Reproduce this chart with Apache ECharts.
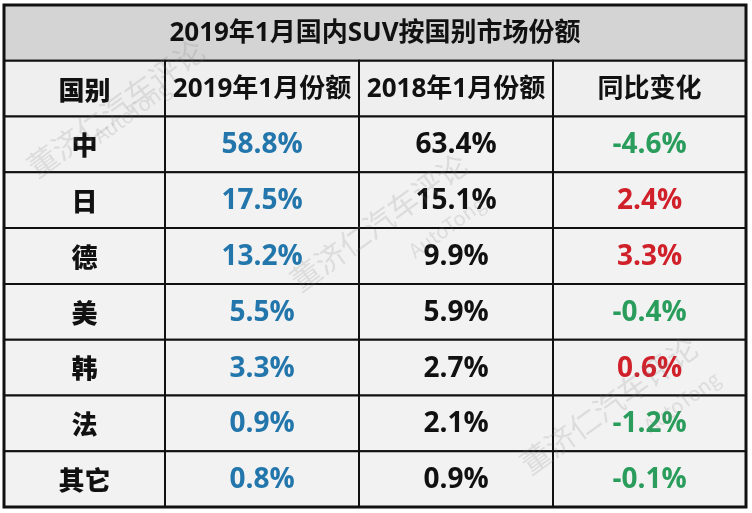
<!DOCTYPE html>
<html>
<head>
<meta charset="utf-8">
<script src="https://cdn.jsdelivr.net/npm/echarts@6/dist/echarts.min.js"></script>
<style>
  html, body { margin: 0; padding: 0; background: #fff; }
  #chart { width: 752px; height: 513px; }
</style>
</head>
<body>
<div id="chart"></div>
<script>
// table data
const tableTitle = '2019年1月国内SUV按国别市场份额'
const headers = ['国别', '2019年1月份额', '2018年1月份额', '同比变化']
const countries = ['中', '日', '德', '美', '韩', '法', '其它']
const share2019 = [58.8, 17.5, 13.2, 5.5, 3.3, 0.9, 0.8]
const share2018 = [63.4, 15.1, 9.9, 5.9, 2.7, 2.1, 0.9]
const yoyChange = [-4.6, 2.4, 3.3, -0.4, 0.6, -1.2, -0.1]

// layout: column edges along the x value axis
const colEdges = [0, 161, 355, 549, 742]
const rowCount = countries.length + 2

const cjk = "'Noto Sans CJK SC', sans-serif"
const num = "'Open Sans', 'Noto Sans CJK SC', sans-serif"

const cells = []
// title row spans all columns
cells.push({ c0: 0, c1: 4, row: 0, text: tableTitle, color: '#111', bg: '#d4d4d4', font: num, size: 26, weight: 'bold' })
headers.forEach((h, i) => {
  cells.push({ c0: i, c1: i + 1, row: 1, text: h, color: '#111', bg: '#efefef', font: i === 0 ? cjk : num, size: 26, weight: i === 0 ? 900 : 'bold' })
})
countries.forEach((name, r) => {
  const row = r + 2
  cells.push({ c0: 0, c1: 1, row, text: name, color: '#111', bg: '#f2f2f2', font: cjk, size: 26, weight: 900 })
  cells.push({ c0: 1, c1: 2, row, text: share2019[r].toFixed(1) + '%', color: '#2276ab', bg: '#f2f2f2', font: num, size: 28, weight: 'bold' })
  cells.push({ c0: 2, c1: 3, row, text: share2018[r].toFixed(1) + '%', color: '#111', bg: '#f2f2f2', font: num, size: 28, weight: 'bold' })
  cells.push({
    c0: 3, c1: 4, row,
    text: yoyChange[r].toFixed(1) + '%',
    color: yoyChange[r] < 0 ? '#2a9d5c' : '#d0212b',
    bg: '#f2f2f2', font: num, size: 28, weight: 'bold'
  })
})

const mychart = echarts.init(document.getElementById('chart'))

const watermark = (x, y, text, size, rot) => ({
  type: 'text', x, y, rotation: rot, silent: true, z: 100,
  style: { text, fill: 'rgba(120,120,120,0.18)', font: size + "px 'Noto Sans CJK SC'" }
})

mychart.setOption({
  animation: false,
  grid: { left: 4, right: 6, top: 5, bottom: 6 },
  xAxis: { type: 'value', min: 0, max: 742, show: false },
  yAxis: { type: 'value', min: 0, max: rowCount, inverse: true, show: false },
  series: [{
    type: 'custom',
    data: cells.map((c, i) => [colEdges[c.c0], colEdges[c.c1], c.row, i]),
    renderItem: (params, api) => {
      const cell = cells[api.value(3)]
      const p0 = api.coord([api.value(0), api.value(2)])
      const p1 = api.coord([api.value(1), api.value(2) + 1])
      return {
        type: 'group',
        children: [{
          type: 'rect',
          shape: { x: p0[0], y: p0[1], width: p1[0] - p0[0], height: p1[1] - p0[1] },
          style: { fill: cell.bg, stroke: '#111', lineWidth: 2 }
        }, {
          type: 'text',
          x: (p0[0] + p1[0]) / 2,
          y: (p0[1] + p1[1]) / 2 + 1,
          style: {
            text: cell.text,
            fill: cell.color,
            font: cell.weight + ' ' + cell.size + 'px ' + cell.font,
            align: 'center',
            verticalAlign: 'middle'
          }
        }]
      }
    }
  }],
  graphic: [
    { type: 'rect', shape: { x: 4, y: 5, width: 742, height: 502 }, style: { fill: 'none', stroke: '#111', lineWidth: 3 }, z: 90 },
    watermark(22, 158, '董济仁汽车评论', 30, Math.PI / 5),
    watermark(90, 130, 'AutoTong', 20, Math.PI / 5),
    watermark(285, 272, '董济仁汽车评论', 30, Math.PI / 5),
    watermark(405, 245, 'AutoTong', 20, Math.PI / 5),
    watermark(515, 455, '董济仁汽车评论', 30, Math.PI / 5),
    watermark(640, 420, 'AutoTong', 20, Math.PI / 5)
  ]
})
</script>
</body>
</html>
